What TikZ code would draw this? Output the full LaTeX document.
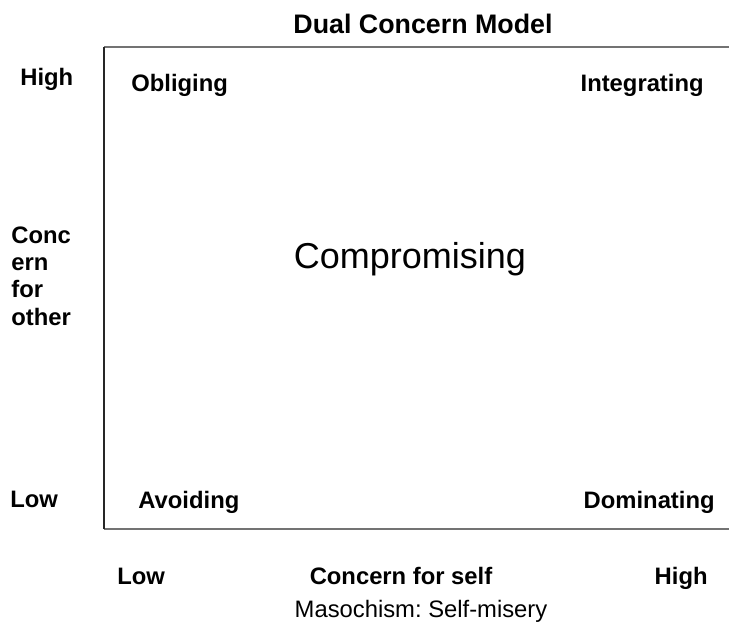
\documentclass[tikz,border=0pt]{standalone}
\usepackage{fontspec}
\setmainfont{Liberation Sans}
\frenchspacing
\begin{document}
\begin{tikzpicture}[x=0.5pt,y=-0.5pt,
  lbl/.style={font=\fontsize{11.9}{14}\selectfont\bfseries, inner sep=0pt},
  ttl/.style={font=\fontsize{13.4}{16}\selectfont\bfseries, inner sep=0pt},
  big/.style={font=\fontsize{18}{22}\selectfont, inner sep=0pt},
  note/.style={font=\fontsize{11.9}{14}\selectfont, inner sep=0pt},
  frameL/.style={draw=black!85, line width=1pt},
  frameG/.style={draw=black!55, line width=1.2pt}]
\useasboundingbox (0,0) rectangle (729,627);
% frame (open on the right)
\coordinate (tl) at (104,47);
\coordinate (bl) at (104,529);
\coordinate (tr) at (729,47);
\coordinate (br) at (729,529);
\draw[frameG] (tl) -- (tr);
\draw[frameG] (bl) -- (br);
\draw[frameL] (tl) -- (bl);
% title
\node[ttl, anchor=base] (title) at (423,33) {Dual Concern Model};
% left axis
\node[lbl, anchor=base west] (yhigh) at (20,85) {High};
\node[lbl, anchor=base west] (c1) at (11,243) {Conc};
\node[lbl, anchor=base west] (c2) at (11,270) {ern};
\node[lbl, anchor=base west] (c3) at (11,297) {for};
\node[lbl, anchor=base west] (c4) at (11,325) {other};
\node[lbl, anchor=base west] (ylow) at (10,507) {Low};
% quadrants
\node[lbl, anchor=base west] (obl) at (131,91) {Obliging};
\node[lbl, anchor=base east] (int) at (704,91) {Integrating};
\node[big, anchor=base] (comp) at (410,268) {Compromising};
\node[lbl, anchor=base west] (avo) at (138,508) {Avoiding};
\node[lbl, anchor=base east] (dom) at (715,508) {Dominating};
% bottom axis
\node[lbl, anchor=base west] (xlow) at (117,584) {Low};
\node[lbl, anchor=base] (xmid) at (401,584) {Concern for self};
\node[lbl, anchor=base east] (xhigh) at (708,584) {High};
\node[note, anchor=base] (maso) at (421,617) {Masochism: Self-misery};
\end{tikzpicture}
\end{document}
